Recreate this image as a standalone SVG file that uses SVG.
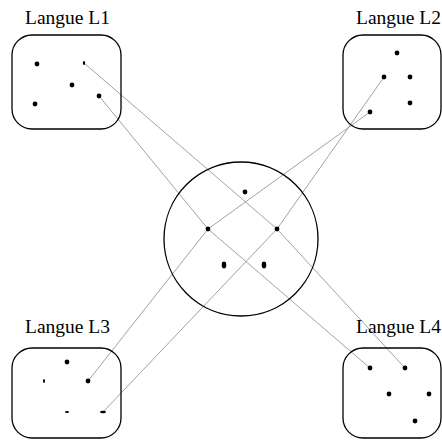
<svg xmlns="http://www.w3.org/2000/svg" width="442" height="440" viewBox="0 0 442 440">
<style>
.box{fill:none;stroke:#000;stroke-width:1.3}
.lbl{font-family:"Liberation Serif","Times New Roman",serif;font-size:19.5px;fill:#000}
.dot{fill:#000}
.link{stroke:#8a8a8a;stroke-width:0.8;fill:none}
</style>
<rect width="442" height="440" fill="#fff"/>
<g id="connectors">
<line class="link" x1="84" y1="63" x2="277" y2="229"/>
<line class="link" x1="277" y1="229" x2="405" y2="368"/>
<line class="link" x1="99" y1="96" x2="208" y2="229"/>
<line class="link" x1="208" y1="229" x2="370" y2="368"/>
<line class="link" x1="384" y1="77" x2="277" y2="229"/>
<line class="link" x1="370" y1="112" x2="208" y2="229"/>
<line class="link" x1="208" y1="229" x2="88" y2="381"/>
<line class="link" x1="277" y1="229" x2="103" y2="412"/>
</g>
<g id="L1">
<rect class="box" x="12" y="35" width="109" height="94" rx="20"/>
<text class="lbl" x="25" y="24">Langue L1</text>
<circle class="dot" cx="37" cy="64" r="2.4"/>
<ellipse class="dot" cx="84" cy="63" rx="1.2" ry="2"/>
<circle class="dot" cx="72" cy="85" r="2.4"/>
<circle class="dot" cx="35" cy="104" r="2.4"/>
<circle class="dot" cx="99" cy="96" r="2.4"/>
</g>
<g id="L2">
<rect class="box" x="343" y="35" width="98" height="94" rx="20"/>
<text class="lbl" x="356" y="24">Langue L2</text>
<circle class="dot" cx="397" cy="53" r="2.4"/>
<circle class="dot" cx="384" cy="77" r="2.4"/>
<circle class="dot" cx="410" cy="77" r="2.4"/>
<circle class="dot" cx="410" cy="103" r="2.4"/>
<circle class="dot" cx="370" cy="112" r="2.4"/>
</g>
<g id="L3">
<rect class="box" x="12" y="348" width="109" height="90" rx="20"/>
<text class="lbl" x="25" y="333">Langue L3</text>
<circle class="dot" cx="67" cy="362" r="2.4"/>
<ellipse class="dot" cx="44" cy="381" rx="1" ry="2"/>
<circle class="dot" cx="88" cy="381" r="2.4"/>
<ellipse class="dot" cx="67" cy="412" rx="2" ry="1"/>
<ellipse class="dot" cx="103" cy="412" rx="3" ry="1.2"/>
</g>
<g id="L4">
<rect class="box" x="343" y="348" width="98" height="90" rx="20"/>
<text class="lbl" x="356" y="333">Langue L4</text>
<circle class="dot" cx="370" cy="368" r="2.4"/>
<circle class="dot" cx="405" cy="368" r="2.4"/>
<circle class="dot" cx="389" cy="394" r="2.4"/>
<circle class="dot" cx="429" cy="394" r="2.4"/>
<circle class="dot" cx="415" cy="421" r="2.4"/>
</g>
<g id="center">
<circle class="box" cx="241" cy="239" r="77"/>
<circle class="dot" cx="245" cy="192" r="2.4"/>
<circle class="dot" cx="208" cy="229" r="2.4"/>
<circle class="dot" cx="277" cy="229" r="2.4"/>
<ellipse class="dot" cx="224" cy="265" rx="2.3" ry="3.4"/>
<ellipse class="dot" cx="264" cy="265" rx="2.3" ry="3.4"/>
</g>
</svg>
